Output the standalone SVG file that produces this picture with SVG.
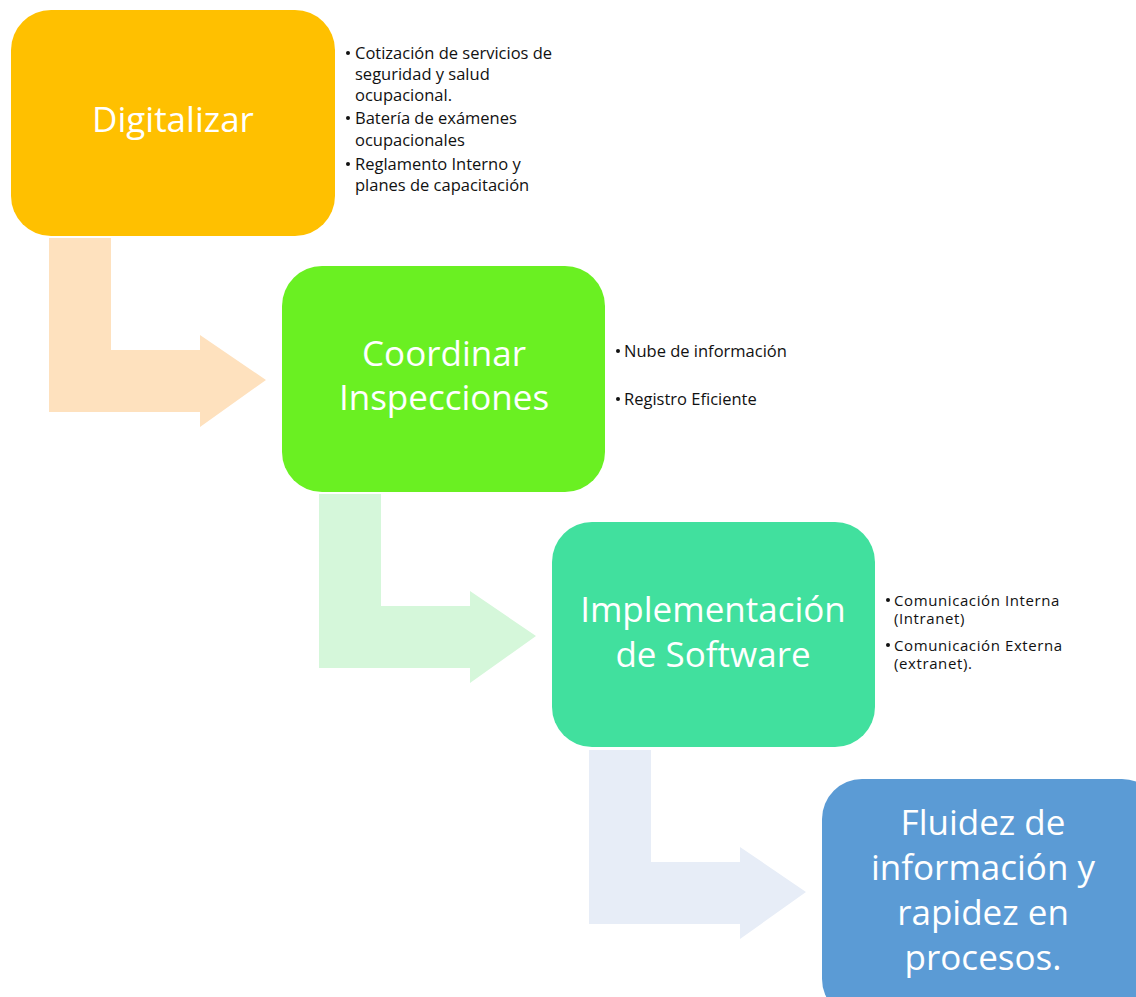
<svg xmlns="http://www.w3.org/2000/svg" width="1136" height="997" viewBox="0 0 1136 997">
  <style>
    .title { font-family: "Open Sans", "Noto Sans", sans-serif; font-size: 35px; fill: #ffffff; text-anchor: middle; }
    .note { font-family: "Open Sans", "Noto Sans", sans-serif; font-size: 16.5px; fill: #111111; }
    .note-tight { font-family: "Open Sans", "Noto Sans", sans-serif; font-size: 15px; letter-spacing: 0.6px; fill: #111111; }
    .dot { fill: #111111; }
  </style>
  <rect width="1136" height="997" fill="#ffffff"/>

  <!-- bent arrows linking the steps -->
  <g id="connectors">
    <path d="M49,238 H111 V350 H200 V335 L266,380 L200,427 V412 H49 Z" fill="#FEE1BE"/>
    <path d="M319,494 H381 V606 H470 V591 L536,636 L470,683 V668 H319 Z" fill="#D5F7DA"/>
    <path d="M589,750 H651 V862 H740 V847 L806,892 L740,939 V924 H589 Z" fill="#E7EDF7"/>
  </g>

  <g id="step-digitalizar">
    <rect x="11" y="10" width="324" height="226" rx="40" fill="#FFC000"/>
    <text class="title" x="173" y="132">Digitalizar</text>
    <circle class="dot" cx="348" cy="53" r="2"/>
    <text class="note" x="355" y="59">Cotización de servicios de</text>
    <text class="note" x="355" y="80">seguridad y salud</text>
    <text class="note" x="355" y="101">ocupacional.</text>
    <circle class="dot" cx="348" cy="118" r="2"/>
    <text class="note" x="355" y="124">Batería de exámenes</text>
    <text class="note" x="355" y="146">ocupacionales</text>
    <circle class="dot" cx="348" cy="164" r="2"/>
    <text class="note" x="355" y="170">Reglamento Interno y</text>
    <text class="note" x="355" y="191">planes de capacitación</text>
  </g>

  <g id="step-coordinar">
    <rect x="282" y="266" width="323" height="226" rx="40" fill="#6AF022"/>
    <text class="title" x="444" y="366">Coordinar</text>
    <text class="title" x="444" y="410">Inspecciones</text>
    <circle class="dot" cx="618" cy="351" r="2"/>
    <text class="note" x="624" y="357">Nube de información</text>
    <circle class="dot" cx="618" cy="399" r="2"/>
    <text class="note" x="624" y="405">Registro Eficiente</text>
  </g>

  <g id="step-software">
    <rect x="552" y="522" width="323" height="225" rx="40" fill="#41E09E"/>
    <text class="title" x="713" y="622">Implementación</text>
    <text class="title" x="713" y="667">de Software</text>
    <circle class="dot" cx="888" cy="600" r="2"/>
    <text class="note-tight" x="894" y="606">Comunicación Interna</text>
    <text class="note-tight" x="894" y="624">(Intranet)</text>
    <circle class="dot" cx="888" cy="645" r="2"/>
    <text class="note-tight" x="894" y="651">Comunicación Externa</text>
    <text class="note-tight" x="894" y="669">(extranet).</text>
  </g>

  <g id="step-fluidez">
    <rect x="822" y="779" width="340" height="240" rx="40" fill="#5B9BD5"/>
    <text class="title" x="983" y="835">Fluidez de</text>
    <text class="title" x="983" y="880">información y</text>
    <text class="title" x="983" y="925">rapidez en</text>
    <text class="title" x="983" y="970">procesos.</text>
  </g>
</svg>
